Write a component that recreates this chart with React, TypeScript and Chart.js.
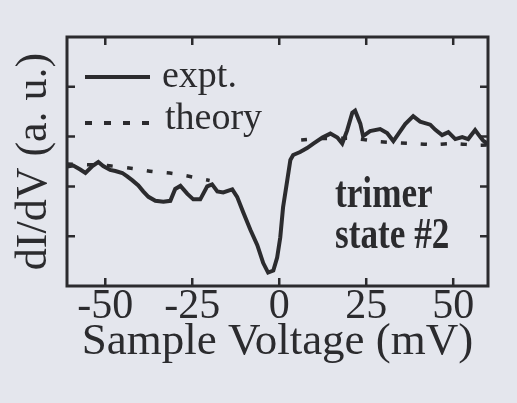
import React, { useEffect, useRef } from "react";
import { Chart, registerables } from "chart.js";

Chart.register(...registerables);

// ---- data ----
const exptV = [
  -61, -59.2, -57.2, -55.7, -53.7, -52.0, -50.6, -48.6, -47.1, -45.1, -43.7, -42.2,
  -40.5, -39.1, -37.6, -35.6, -33.3, -31.3, -29.9, -28.4, -26.4, -24.7, -22.7, -20.7,
  -19.3, -17.8, -16.1, -13.5, -12.1, -10.3, -8.3, -6.3, -4.6, -3.2, -1.7, -0.6,
  0.3, 1.1, 2.3, 3.2, 4.0, 6.0, 8.0, 9.8, 12.4, 14.7, 16.7, 18.1,
  19.5, 21.0, 21.8, 23.3, 24.1, 26.1, 29.0, 31.0, 32.8, 34.2, 36.2, 38.5,
  40.5, 43.4, 44.8, 46.8, 48.6, 50.6, 52.6, 54.3, 56.3, 57.8, 58.6, 60,
];
const exptDIDV = [
  2.40, 2.42, 2.34, 2.27, 2.41, 2.49, 2.41, 2.33, 2.31, 2.27, 2.20, 2.12,
  2.02, 1.90, 1.79, 1.71, 1.69, 1.71, 1.95, 2.01, 1.85, 1.74, 1.74, 2.00,
  2.04, 1.90, 1.88, 1.94, 1.79, 1.47, 1.13, 0.82, 0.46, 0.27, 0.31, 0.57,
  0.98, 1.58, 2.12, 2.53, 2.63, 2.69, 2.77, 2.86, 2.98, 3.06, 2.98, 2.86,
  3.12, 3.48, 3.52, 3.26, 3.01, 3.11, 3.15, 3.07, 2.91, 3.05, 3.25, 3.41,
  3.30, 3.24, 3.14, 3.03, 3.09, 2.95, 2.99, 2.95, 3.13, 2.99, 2.92, 2.85,
];
const theoryV = [-61, -50, -42.2, -36.5, -30.7, -25, -20, -15, 6.3, 12, 21.8, 28.4, 38.8, 44.5, 50.3, 56.3, 60];
const theoryDIDV = [2.45, 2.42, 2.36, 2.30, 2.26, 2.19, 2.12, null, 2.93, 2.96, 2.96, 2.90, 2.86, 2.84, 2.86, 2.83, 2.83];

const xTickValues = [-50, -25, 0, 25, 50];
const yTickValues = [1, 2, 3, 4];
const xRange = [-61, 60];
const yRange = [0, 5];
const xTitle = "Sample Voltage (mV)";
const yTitle = "dI/dV (a. u.)";
const seriesNames = ["expt.", "theory"];
const noteLines = ["trimer", "state #2"];

const INK = "#2b2b2e";
const PAPER = "#e4e6ed";
const SERIF = "'Liberation Serif', 'Times New Roman', serif";

const framePlugin = {
  id: "frame",
  afterDatasetsDraw(chart: any) {
    const { ctx, chartArea: a, scales } = chart;
    ctx.save();
    ctx.strokeStyle = INK;
    ctx.lineWidth = 3;
    ctx.strokeRect(a.left, a.top, a.right - a.left, a.bottom - a.top);
    ctx.lineWidth = 2.5;
    const tl = 8;
    scales.x.ticks.forEach((t: any) => {
      const px = scales.x.getPixelForValue(t.value);
      ctx.beginPath();
      ctx.moveTo(px, a.bottom);
      ctx.lineTo(px, a.bottom - tl);
      ctx.moveTo(px, a.top);
      ctx.lineTo(px, a.top + tl);
      ctx.stroke();
    });
    scales.y.ticks.forEach((t: any) => {
      const py = scales.y.getPixelForValue(t.value);
      ctx.beginPath();
      ctx.moveTo(a.left, py);
      ctx.lineTo(a.left + tl, py);
      ctx.moveTo(a.right, py);
      ctx.lineTo(a.right - tl, py);
      ctx.stroke();
    });

    // legend
    const ds = chart.data.datasets;
    ctx.fillStyle = INK;
    ctx.font = `38px ${SERIF}`;
    ctx.textBaseline = "alphabetic";
    ctx.textAlign = "left";
    ctx.lineWidth = 4;
    ctx.setLineDash([]);
    ctx.beginPath();
    ctx.moveTo(a.left + 18, a.top + 40);
    ctx.lineTo(a.left + 83, a.top + 40);
    ctx.stroke();
    ctx.fillText(ds[0].label, a.left + 95, a.top + 50);
    ctx.setLineDash([7, 12]);
    ctx.beginPath();
    ctx.moveTo(a.left + 18, a.top + 86);
    ctx.lineTo(a.left + 83, a.top + 86);
    ctx.stroke();
    ctx.setLineDash([]);
    ctx.fillText(ds[1].label, a.left + 98, a.top + 92);

    // annotation
    ctx.font = `bold 44px ${SERIF}`;
    const nx = a.left + 268;
    ctx.save();
    ctx.translate(nx, a.top + 170);
    ctx.scale(0.8, 1);
    ctx.fillText(noteLines[0], 0, 0);
    ctx.restore();
    ctx.save();
    ctx.translate(nx, a.top + 211);
    ctx.scale(0.8, 1);
    ctx.fillText(noteLines[1], 0, 0);
    ctx.restore();
    ctx.restore();
  },
};

export default function App() {
  const ref = useRef<HTMLCanvasElement | null>(null);
  useEffect(() => {
    if (!ref.current) return;
    const chart = new Chart(ref.current, {
      type: "line",
      data: {
        datasets: [
          {
            label: seriesNames[0],
            data: exptV.map((v, i) => ({ x: v, y: exptDIDV[i] })),
            borderColor: INK,
            borderWidth: 4,
            pointRadius: 0,
            tension: 0,
            fill: false,
          },
          {
            label: seriesNames[1],
            data: theoryV.map((v, i) => ({ x: v, y: theoryDIDV[i] })),
            borderColor: INK,
            borderWidth: 3.5,
            borderDash: [6, 14],
            pointRadius: 0,
            tension: 0.3,
            spanGaps: false,
            fill: false,
          },
        ],
      },
      options: {
        responsive: false,
        animation: false,
        events: [],
        layout: { padding: { top: 37, right: 29, left: 0, bottom: 0 } },
        plugins: { legend: { display: false }, tooltip: { enabled: false } },
        scales: {
          x: {
            type: "linear",
            min: xRange[0],
            max: xRange[1],
            afterBuildTicks: (s: any) => {
              s.ticks = xTickValues.map((v) => ({ value: v }));
            },
            afterFit: (s: any) => {
              s.height = 117;
            },
            grid: { display: false, drawTicks: false },
            border: { display: false },
            ticks: {
              color: INK,
              font: { family: SERIF, size: 42 },
              padding: -4,
              maxRotation: 0,
              autoSkip: false,
              callback: (v: any) => String(v),
            },
            title: {
              display: true,
              text: xTitle,
              color: INK,
              font: { family: SERIF, size: 45 },
              padding: { top: 0, bottom: 34 },
            },
          },
          y: {
            type: "linear",
            min: yRange[0],
            max: yRange[1],
            afterBuildTicks: (s: any) => {
              s.ticks = yTickValues.map((v) => ({ value: v }));
            },
            afterFit: (s: any) => {
              s.width = 67;
            },
            grid: { display: false, drawTicks: false },
            border: { display: false },
            ticks: { display: false },
            title: {
              display: true,
              text: yTitle,
              color: INK,
              font: { family: SERIF, size: 44 },
              padding: { top: 8, bottom: 0 },
            },
          },
        },
      },
      plugins: [framePlugin],
    });
    return () => chart.destroy();
  }, []);
  return (
    <div style={{ position: "fixed", left: 0, top: 0, width: 517, height: 403, background: PAPER }}>
      <canvas ref={ref} width={517} height={403} style={{ display: "block" }} />
    </div>
  );
}
